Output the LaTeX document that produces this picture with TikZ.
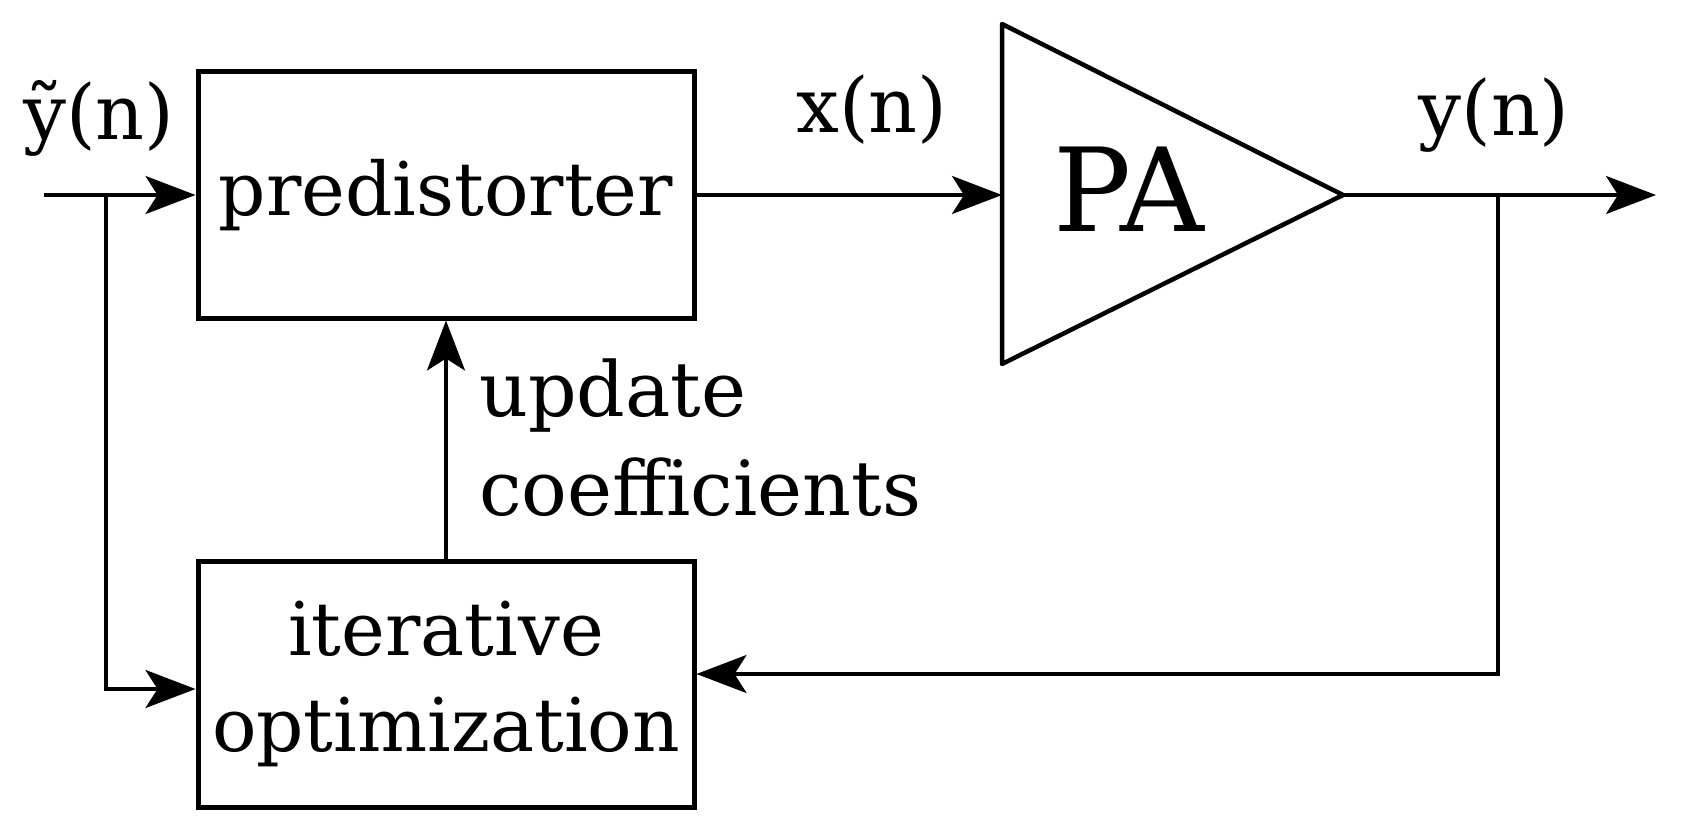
\documentclass[tikz,border=0pt]{standalone}
\usepackage{fontspec}
\setmainfont{DejaVu Serif}
\usepackage{tikz}
\usetikzlibrary{arrows.meta,positioning,calc}

\begin{document}
\begin{tikzpicture}[x=1pt, y=-1pt,
    block/.style={draw, line width=5pt, minimum width=496pt, minimum height=246pt, inner sep=0pt, align=center, font=\fontsize{74}{96}\selectfont},
    sig/.style={line width=3.5pt, -{Stealth[length=50pt, width=38pt, inset=12pt]}},
    lbl/.style={inner sep=0pt, font=\fontsize{76}{99}\selectfont}]
        \useasboundingbox (0,0) rectangle (1681,829);

        % Blocks
        \node[block] (pred) at (446,195) {predistorter};
        \node[block] (opt) at (446,684) {iterative\\optimization};

        % PA
        \coordinate (pain) at (1002,195);
        \coordinate (paout) at (1343,195);
        \draw[line width=4.5pt, line join=round] (1002,24) -- (paout) -- (1002,364) -- cycle;
        \node[lbl, font=\fontsize{116}{130}\selectfont] (pa) at (1129,189) {PA};

        % Signal path
        \coordinate (yin) at (44,195);
        \coordinate (ysplit) at (106,195);
        \coordinate (ysplit2) at (1498,195);
        \coordinate (yout) at (1656,195);
        \draw[sig] (yin) -- (pred.west);
        \draw[sig] (pred.east) -- (pain);
        \draw[sig] (paout) -- (yout);

        % Feedback
        \draw[sig] (ysplit) |- ([yshift=-5pt]opt.west);
        \draw[sig] (ysplit2) |- ([yshift=10pt]opt.east);
        \draw[sig] (opt.north) -- (pred.south);

        % Labels
        \node[lbl] (ylbl) at (99,118) {ỹ(n)};
        \node[lbl] (xlbl) at (872,110) {x(n)};
        \node[lbl] (ylbl2) at (1494,115) {y(n)};
        \node[lbl, anchor=west, align=left] (upd) at (479,438) {update\\coefficients};
    \end{tikzpicture}
\end{document}
